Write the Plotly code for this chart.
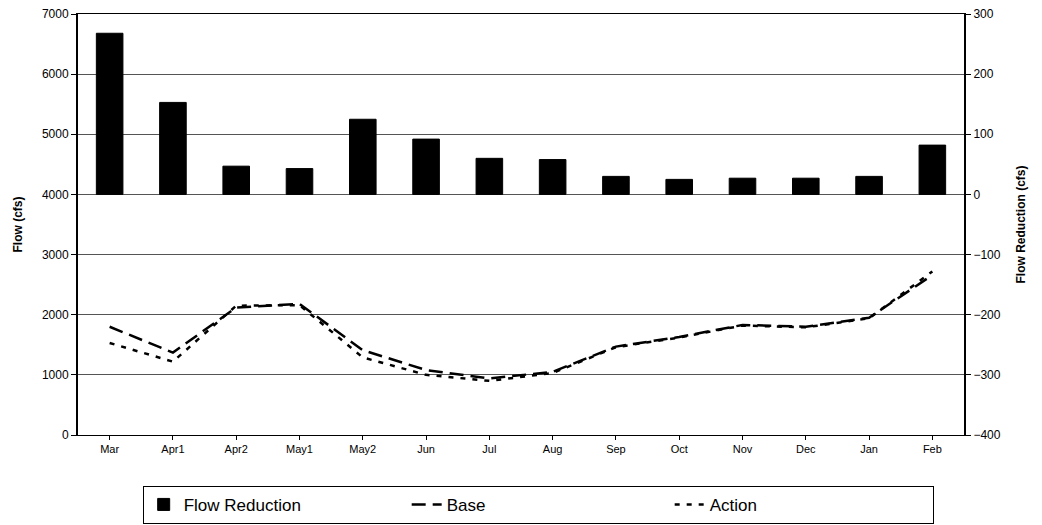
import plotly.graph_objects as go

months = ["Mar", "Apr1", "Apr2", "May1", "May2", "Jun", "Jul", "Aug", "Sep", "Oct", "Nov", "Dec", "Jan", "Feb"]
flow_reduction = [268, 153, 47, 43, 125, 92, 60, 58, 30, 25, 27, 27, 30, 82]
base_flow = [1800, 1370, 2120, 2180, 1410, 1080, 940, 1050, 1470, 1630, 1830, 1800, 1950, 2660]
action_flow = [1530, 1220, 2150, 2160, 1290, 1000, 900, 1030, 1460, 1620, 1820, 1790, 1940, 2720]

fig = go.Figure()
fig.add_trace(go.Bar(x=months, y=flow_reduction, name="Flow Reduction", yaxis="y2",
                     marker=dict(color="black", line=dict(color="black", width=1)), width=0.42))
fig.add_trace(go.Scatter(x=months, y=base_flow, name="Base", mode="lines",
                         line=dict(color="black", width=2.5, dash="14px,7px")))
fig.add_trace(go.Scatter(x=months, y=action_flow, name="Action", mode="lines",
                         line=dict(color="black", width=2.5, dash="5px,7px")))

font = "Liberation Sans, Arial, sans-serif"
fig.update_layout(
    width=1042, height=525,
    margin=dict(l=78, r=78, t=14, b=90, autoexpand=False),
    paper_bgcolor="white", plot_bgcolor="white",
    font=dict(family=font, color="black", size=11),
    showlegend=True,
    bargap=0.5,
    xaxis=dict(showline=True, linecolor="black", linewidth=1, mirror=True,
               ticks="outside", ticklen=4, tickcolor="black", showgrid=False,
               tickfont=dict(size=11)),
    yaxis=dict(range=[0, 7000], dtick=1000, showline=True, linecolor="black", linewidth=2,
               ticks="outside", ticklen=5, tickcolor="black",
               showgrid=True, gridcolor="#555", gridwidth=1,
               title=dict(text="<b>Flow (cfs)</b>", font=dict(size=12), standoff=17),
               tickfont=dict(size=12), zeroline=False),
    yaxis2=dict(range=[-400, 300], dtick=100, overlaying="y", side="right",
                showline=True, linecolor="black", linewidth=2,
                ticks="outside", ticklen=5, tickcolor="black", showgrid=False, zeroline=False,
                title=dict(text="<b>Flow Reduction (cfs)</b>", font=dict(size=12), standoff=17),
                tickfont=dict(size=12)),
    legend=dict(orientation="h", x=0.073, xanchor="left", y=-0.166, yanchor="middle",
                bgcolor="white", bordercolor="black", borderwidth=1,
                font=dict(size=17), entrywidth=218, traceorder="normal"),
)

fig.write_html("out.html")
